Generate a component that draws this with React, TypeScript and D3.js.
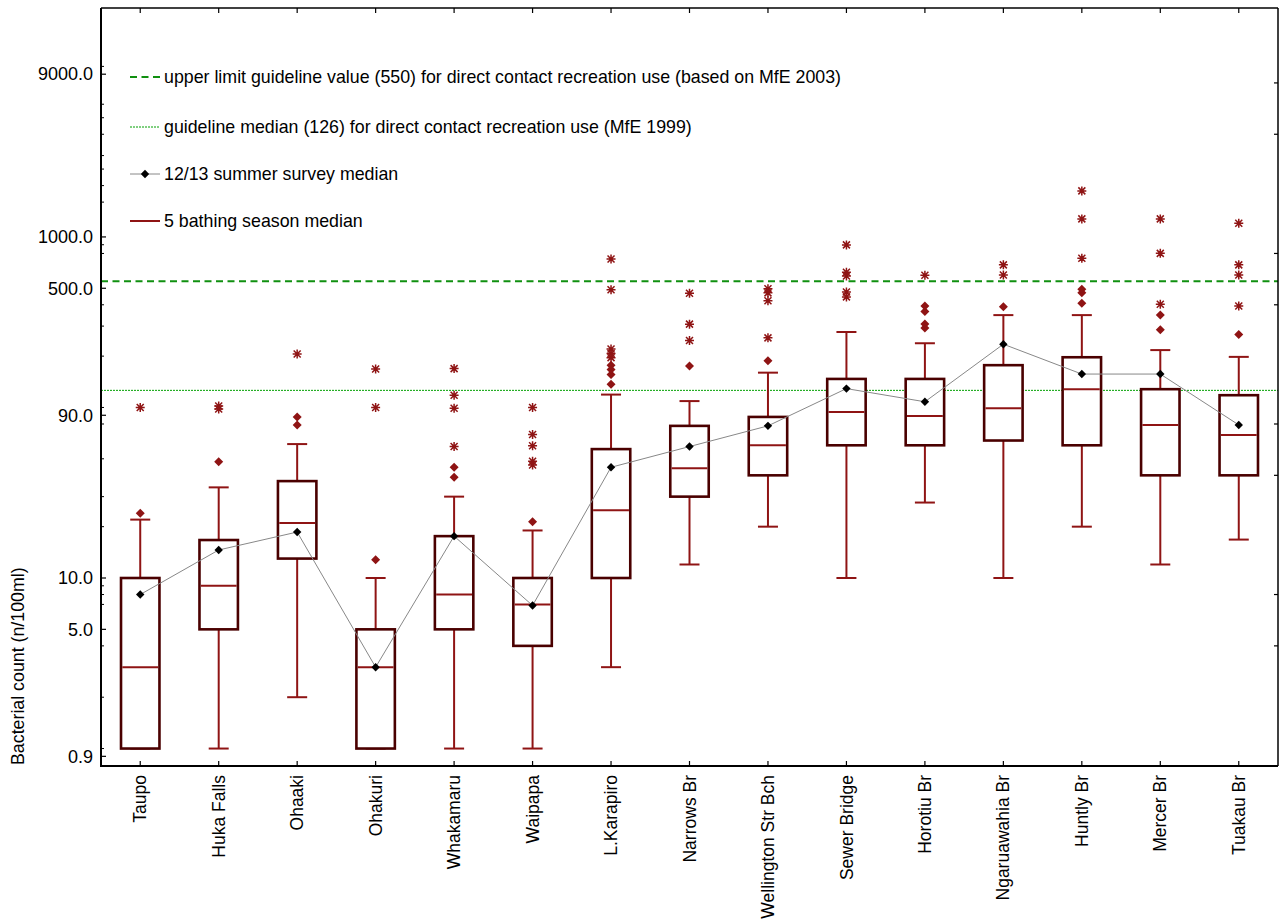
import { useEffect, useRef } from "react";
import * as d3 from "d3";

const sites = [
  "Taupo", "Huka Falls", "Ohaaki", "Ohakuri", "Whakamaru", "Waipapa", "L.Karapiro",
  "Narrows Br", "Wellington Str Bch", "Sewer Bridge", "Horotiu Br", "Ngaruawahia Br",
  "Huntly Br", "Mercer Br", "Tuakau Br",
];

// five-season box stats (n/100ml)
const whiskerLow = [1, 1, 2, 1, 1, 1, 3, 12, 20, 10, 27.7, 10, 20, 12, 16.8];
const q1 = [1, 5, 13, 1, 5, 4, 10, 30, 40, 60, 60, 64, 60, 40, 40];
const median = [3, 9, 21, 3, 8, 7, 25, 44, 60, 94, 89, 99, 128, 79, 69];
const q3 = [10, 16.7, 37, 5, 17.6, 10, 57, 78, 88, 147, 147, 177, 197, 128, 118];
const whiskerHigh = [22, 34, 61, 10, 30, 19, 119, 109, 160, 277, 238, 348, 348, 217, 198];

const outliers = [
  [24], [48], [79, 88], [12.8], [39, 44.6], [21.4], [137, 156, 167, 177],
  [175], [188], [], [292, 309, 365, 394], [390], [408, 471, 493], [286, 349], [268],
];
const extremes = [
  [100], [98, 102], [206], [100, 168], [59, 99, 118, 169], [46, 48.4, 59.7, 69.5, 100],
  [196, 207, 220, 490, 743], [247, 308, 468], [256, 422, 470, 497],
  [445, 475, 590, 620, 898], [596], [598, 686], [750, 1276, 1862], [403, 801, 1276],
  [394, 598, 686, 1202],
];

// 12/13 summer survey medians
const survey = [8, 14.6, 18.6, 3, 17.6, 6.9, 44.6, 59, 78, 129, 108, 235, 157, 157, 79];

const upperLimit = 550;
const guidelineMedian = 126;

const yLabels = [9000, 1000, 500, 90, 10, 5, 0.9];
const yMinor = [10000, 6000, 5000, 4000, 3000, 2500, 2000, 1600, 900, 800, 400, 300, 200, 100, 80, 50, 30, 20, 9, 8, 7, 4, 2, 1];
const rightTicks = [8000, 4000, 800, 400, 80, 40, 8, 4];

const legendItems = [
  "upper limit guideline value (550) for direct contact recreation use (based on MfE 2003)",
  "guideline median (126) for direct contact recreation use (MfE 1999)",
  "12/13 summer survey median",
  "5 bathing season median",
];

const FONT = "'Liberation Sans', Arial, sans-serif";
const BOX = "#4a0000";
const RED = "#8f1414";
const GREEN = "#109010";

export default function App() {
  const ref = useRef<SVGSVGElement>(null);

  useEffect(() => {
    document.body.style.margin = "0";
    if (!ref.current) return;
    const svg = d3.select(ref.current);
    svg.selectAll("*").remove();

    const left = 101, right = 1278, top = 8, bottom = 766;

    const x = d3.scaleBand().domain(sites).range([left, right]).padding(0);
    const y = d3.scaleLog().domain([0.79, 22000]).range([bottom, top]);
    const cx = (i: number) => (x(sites[i]) ?? 0) + x.bandwidth() / 2;
    const boxW = x.bandwidth() * 0.49;
    const capW = 20;

    const g = svg.append("g");

    // guideline lines
    g.append("line")
      .attr("x1", left).attr("x2", right)
      .attr("y1", y(upperLimit)).attr("y2", y(upperLimit))
      .attr("stroke", GREEN).attr("stroke-width", 2)
      .attr("stroke-dasharray", "7,4.5");
    g.append("line")
      .attr("x1", left).attr("x2", right)
      .attr("y1", y(guidelineMedian)).attr("y2", y(guidelineMedian))
      .attr("stroke", "#00a000").attr("stroke-width", 1)
      .attr("stroke-dasharray", "2,1");

    // boxes
    sites.forEach((_, i) => {
      const c = cx(i);
      const bg = g.append("g");
      // whiskers
      bg.append("line").attr("x1", c).attr("x2", c)
        .attr("y1", y(q3[i])).attr("y2", y(whiskerHigh[i]))
        .attr("stroke", RED).attr("stroke-width", 2);
      bg.append("line").attr("x1", c).attr("x2", c)
        .attr("y1", y(q1[i])).attr("y2", y(whiskerLow[i]))
        .attr("stroke", RED).attr("stroke-width", 2);
      [whiskerHigh[i], whiskerLow[i]].forEach((v) => {
        bg.append("line").attr("x1", c - capW / 2).attr("x2", c + capW / 2)
          .attr("y1", y(v)).attr("y2", y(v))
          .attr("stroke", RED).attr("stroke-width", 2);
      });
      bg.append("rect")
        .attr("x", c - boxW / 2).attr("width", boxW)
        .attr("y", y(q3[i])).attr("height", y(q1[i]) - y(q3[i]))
        .attr("fill", "white").attr("stroke", BOX).attr("stroke-width", 2.6);
      bg.append("line")
        .attr("x1", c - boxW / 2 + 1.3).attr("x2", c + boxW / 2 - 1.3)
        .attr("y1", y(median[i])).attr("y2", y(median[i]))
        .attr("stroke", RED).attr("stroke-width", 2);

      outliers[i].forEach((v) => {
        bg.append("path")
          .attr("d", "M0,-4.5L4.5,0L0,4.5L-4.5,0Z")
          .attr("transform", `translate(${c},${y(v)})`)
          .attr("fill", RED);
      });
      extremes[i].forEach((v) => {
        bg.append("path")
          .attr("d", "M-4.5,0H4.5M0,-4.5V4.5M-3.5,-3.5L3.5,3.5M-3.5,3.5L3.5,-3.5")
          .attr("transform", `translate(${c},${y(v)})`)
          .attr("stroke", RED).attr("stroke-width", 1.5).attr("fill", "none");
      });
    });

    // survey median line
    const line = d3.line<number>().x((_, i) => cx(i)).y((d) => y(d));
    g.append("path").datum(survey).attr("d", line)
      .attr("fill", "none").attr("stroke", "#888").attr("stroke-width", 1);
    survey.forEach((v, i) => {
      g.append("path").attr("d", "M0,-4.2L4.2,0L0,4.2L-4.2,0Z")
        .attr("transform", `translate(${cx(i)},${y(v)})`).attr("fill", "black");
    });

    // frame
    const frame = svg.append("g").attr("stroke", "black").attr("fill", "none");
    frame.append("line").attr("x1", left).attr("x2", right).attr("y1", top).attr("y2", top).attr("stroke-width", 1.5);
    frame.append("line").attr("x1", right).attr("x2", right).attr("y1", top).attr("y2", bottom).attr("stroke-width", 1.5);
    frame.append("line").attr("x1", left).attr("x2", left).attr("y1", top).attr("y2", bottom + 1).attr("stroke-width", 2);
    frame.append("line").attr("x1", left - 1).attr("x2", right).attr("y1", bottom).attr("y2", bottom).attr("stroke-width", 2);

    // category ticks (top and bottom, inward)
    sites.forEach((_, i) => {
      const c = cx(i);
      frame.append("line").attr("x1", c).attr("x2", c).attr("y1", bottom).attr("y2", bottom - 5).attr("stroke-width", 1.2);
      frame.append("line").attr("x1", c).attr("x2", c).attr("y1", top).attr("y2", top + 5).attr("stroke-width", 1.2);
    });
    // left ticks
    yLabels.forEach((v) => {
      frame.append("line").attr("x1", left).attr("x2", left + 5).attr("y1", y(v)).attr("y2", y(v)).attr("stroke-width", 1.2);
    });
    yMinor.forEach((v) => {
      frame.append("line").attr("x1", left).attr("x2", left + 3).attr("y1", y(v)).attr("y2", y(v)).attr("stroke-width", 1);
    });
    rightTicks.forEach((v) => {
      frame.append("line").attr("x1", right).attr("x2", right - 4).attr("y1", y(v)).attr("y2", y(v)).attr("stroke-width", 1.2);
    });

    // y labels
    svg.append("g").selectAll("text").data(yLabels).join("text")
      .attr("x", 93).attr("y", (d) => y(d)).attr("dy", "0.35em")
      .attr("text-anchor", "end").attr("font-family", FONT).attr("font-size", 18)
      .text((d) => d3.format(".1f")(d));

    // x labels
    svg.append("g").selectAll("text").data(sites).join("text")
      .attr("transform", (_, i) => `translate(${cx(i)},775) rotate(-90)`)
      .attr("dy", "0.35em").attr("text-anchor", "end")
      .attr("font-family", FONT).attr("font-size", 17.5)
      .text((d) => d);

    // y title
    svg.append("text")
      .attr("transform", "translate(24,765) rotate(-90)")
      .attr("font-family", FONT).attr("font-size", 17.8)
      .text("Bacterial count (n/100ml)");

    // legend
    const lg = svg.append("g");
    const ly = [77, 127, 174, 221];
    lg.append("line").attr("x1", 130).attr("x2", 160).attr("y1", ly[0]).attr("y2", ly[0])
      .attr("stroke", GREEN).attr("stroke-width", 2).attr("stroke-dasharray", "7,4.5");
    lg.append("line").attr("x1", 130).attr("x2", 160).attr("y1", ly[1]).attr("y2", ly[1])
      .attr("stroke", "#00a000").attr("stroke-width", 1).attr("stroke-dasharray", "2,1");
    lg.append("line").attr("x1", 130).attr("x2", 160).attr("y1", ly[2]).attr("y2", ly[2])
      .attr("stroke", "#888").attr("stroke-width", 1);
    lg.append("path").attr("d", "M0,-4.2L4.2,0L0,4.2L-4.2,0Z")
      .attr("transform", `translate(145,${ly[2]})`).attr("fill", "black");
    lg.append("line").attr("x1", 130).attr("x2", 160).attr("y1", ly[3]).attr("y2", ly[3])
      .attr("stroke", RED).attr("stroke-width", 2);
    lg.selectAll("text").data(legendItems).join("text")
      .attr("x", 164).attr("y", (_, i) => ly[i]).attr("dy", "0.35em")
      .attr("font-family", FONT).attr("font-size", 17.8)
      .text((d) => d);
  }, []);

  return <svg ref={ref} width={1285} height={924} style={{ display: "block", background: "white" }} />;
}
